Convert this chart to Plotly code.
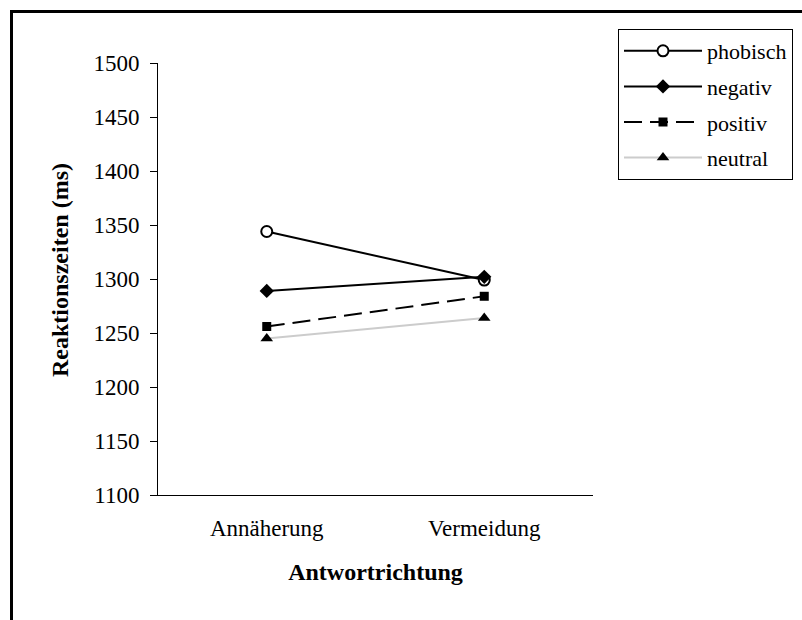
import plotly.graph_objects as go

categories = ["Annäherung", "Vermeidung"]
phobisch = [1344, 1299]
negativ = [1289, 1302]
positiv = [1256, 1284]
neutral = [1245, 1264]
y_ticks = [1100, 1150, 1200, 1250, 1300, 1350, 1400, 1450, 1500]

FONT = "Liberation Serif, Times New Roman, serif"

# plot area pixels
L, R, T, B = 158, 593, 63, 495
W, H = 802, 620

def px_to_paper_x(px):
    return (px - L) / (R - L)

def px_to_paper_y(py):
    return (B - py) / (B - T)

fig = go.Figure()
fig.add_trace(go.Scatter(x=categories, y=phobisch, name="phobisch", mode="lines+markers",
                         line=dict(color="black", width=2),
                         marker=dict(symbol="circle", size=11, color="white",
                                     line=dict(color="black", width=2)),
                         legendgroup="a"))
fig.add_trace(go.Scatter(x=categories, y=negativ, name="negativ", mode="lines+markers",
                         line=dict(color="black", width=2),
                         marker=dict(symbol="diamond", size=11, color="black"),
                         legendgroup="b"))
fig.add_trace(go.Scatter(x=categories, y=positiv, name="positiv", mode="lines+markers",
                         line=dict(color="black", width=2, dash="18px,8px"),
                         marker=dict(symbol="square", size=9, color="black"),
                         legendgroup="c"))
fig.add_trace(go.Scatter(x=categories, y=neutral, name="neutral", mode="lines+markers",
                         line=dict(color="#cccccc", width=2),
                         marker=dict(symbol="triangle-up", size=11, color="black"),
                         legendgroup="d"))

fig.update_layout(
    width=W, height=H,
    margin=dict(l=L, r=W - R, t=T, b=H - B, autoexpand=False),
    paper_bgcolor="white", plot_bgcolor="white",
    font=dict(family=FONT, size=22, color="black"),
    showlegend=True,
    legend=dict(
        x=px_to_paper_x(618), y=px_to_paper_y(29), xanchor="left", yanchor="top",
        bordercolor="black", borderwidth=1, bgcolor="white",
        font=dict(family=FONT, size=22, color="black"),
        traceorder="grouped", tracegroupgap=4, itemwidth=78,
    ),
    xaxis=dict(
        type="category", range=[-0.5, 1.5],
        showline=True, linecolor="black", linewidth=1,
        ticks="", showgrid=False, zeroline=False,
        tickfont=dict(family=FONT, size=23),
        ticklabelstandoff=12,
        title=dict(text="<b>Antwortrichtung</b>", font=dict(family=FONT, size=24), standoff=23),
    ),
    yaxis=dict(
        range=[1100, 1500], tickvals=y_ticks,
        showline=True, linecolor="black", linewidth=1,
        ticks="outside", ticklen=7, tickcolor="black", tickwidth=1,
        showgrid=False, zeroline=False,
        tickfont=dict(family=FONT, size=23),
        ticklabelstandoff=6,
    ),
    annotations=[dict(text="<b>Reaktionszeiten (ms)</b>", textangle=-90,
                      xref="paper", yref="paper",
                      x=px_to_paper_x(60), y=px_to_paper_y(270),
                      xanchor="center", yanchor="middle", showarrow=False,
                      font=dict(family=FONT, size=24, color="black"))],
    shapes=[dict(type="rect", xref="paper", yref="paper",
                 x0=px_to_paper_x(11.5), x1=px_to_paper_x(812),
                 y0=px_to_paper_y(630), y1=px_to_paper_y(11.5),
                 line=dict(color="black", width=3), fillcolor="rgba(0,0,0,0)",
                 layer="above")],
)

fig.write_html("out.html")
